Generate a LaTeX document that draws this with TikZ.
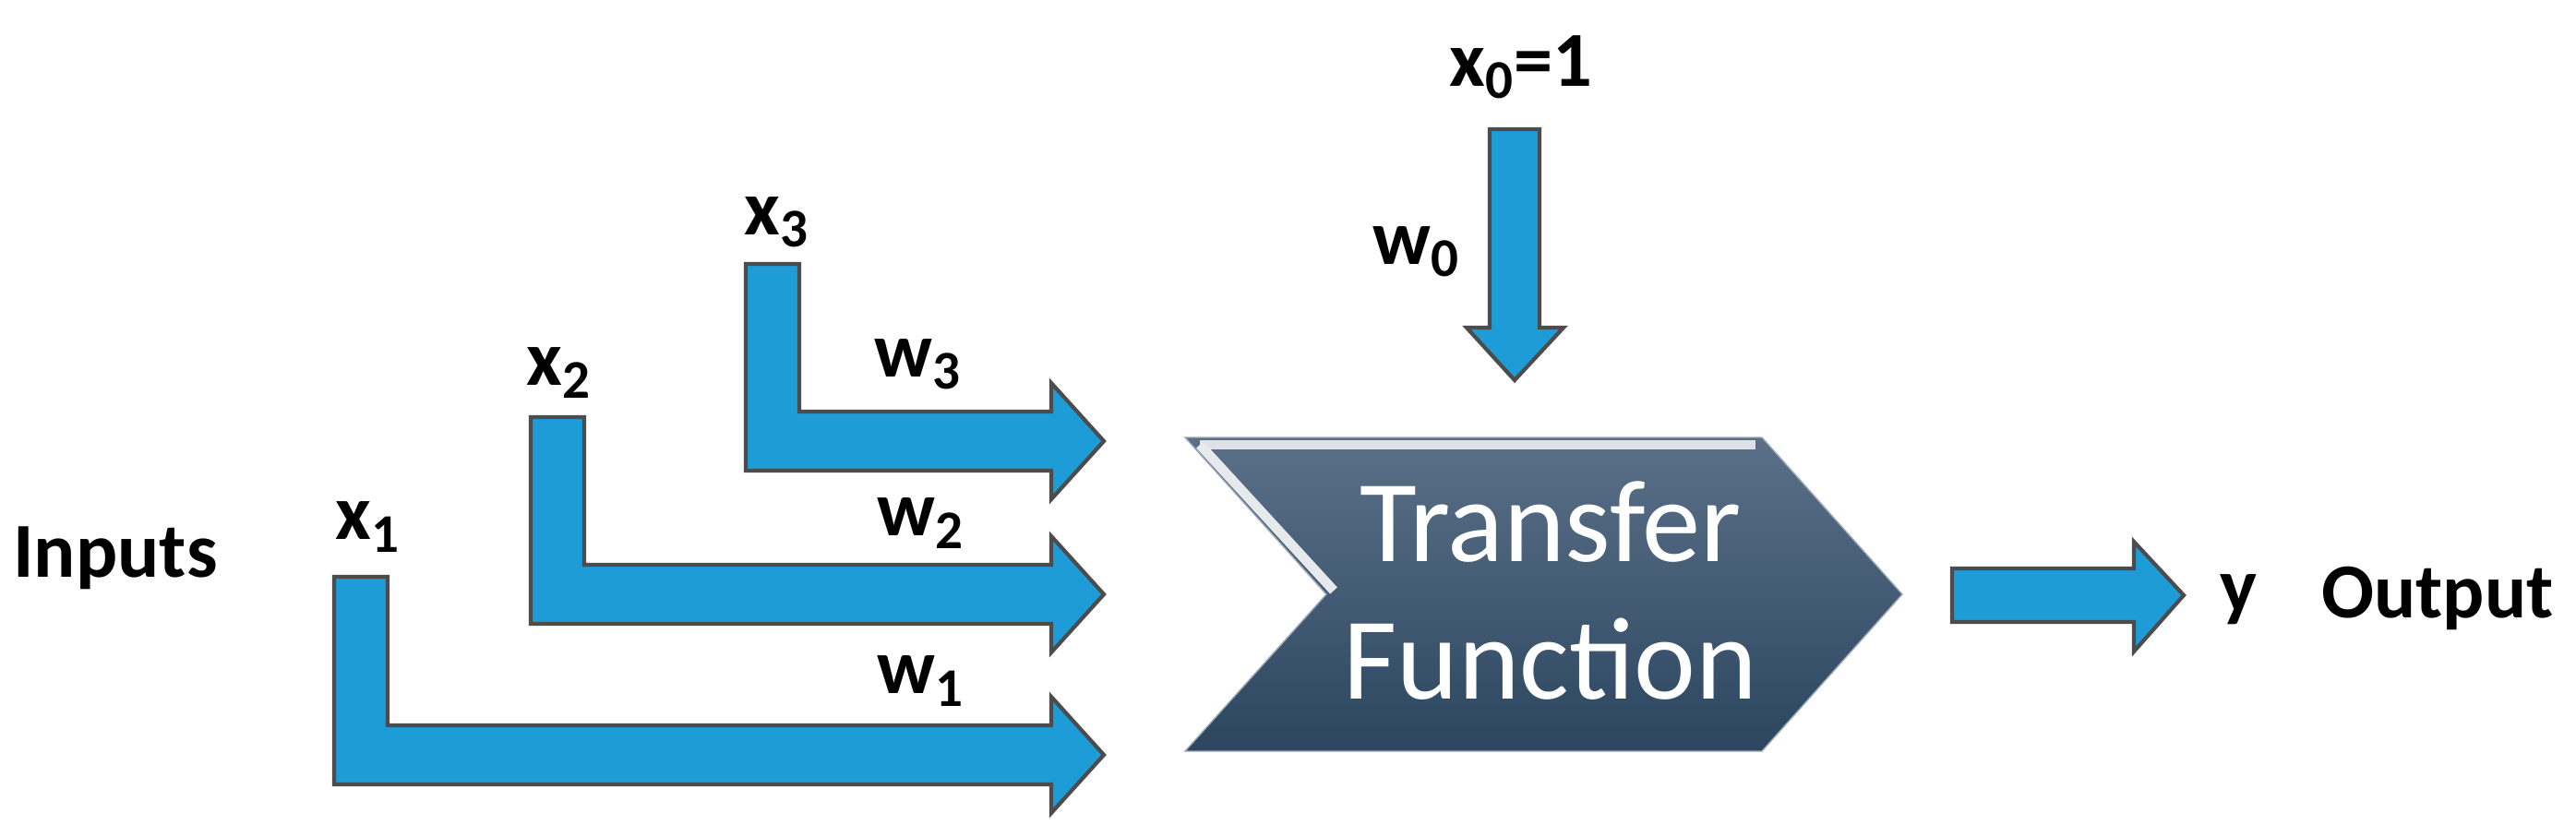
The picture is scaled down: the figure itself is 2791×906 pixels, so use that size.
\documentclass[tikz,border=0pt]{standalone}
\usepackage{fontspec}
\setmainfont{Carlito}
\usetikzlibrary{positioning}
\definecolor{arrowBlue}{HTML}{1E9CD7}
\definecolor{chevTop}{HTML}{5B7088}
\definecolor{chevBottom}{HTML}{2C4660}
\tikzset{
    blockArrow/.style={fill=arrowBlue, draw=black!70, line width=1.2pt},
    inLabel/.style={font=\fontsize{24}{28}\selectfont\bfseries, inner sep=0pt},
    chevText/.style={font=\fontsize{36}{40}\selectfont, text=white, inner sep=0pt}
}
\begin{document}
\begin{tikzpicture}[x=0.01cm, y=-0.01cm]
\useasboundingbox (0,0) rectangle (2791,906);
% input arrows (bar left, bar top, shaft centre)
\foreach \lft/\tp/\mid in {362/625/818, 575/452/644, 808/286/478}{
    \path[blockArrow] (\lft,\tp) -- (\lft+58,\tp) -- (\lft+58,\mid-32)
        -- (1139,\mid-32) -- (1139,\mid-63) -- (1196,\mid) -- (1139,\mid+63)
        -- (1139,\mid+32) -- (\lft,\mid+32) -- cycle;
}
% bias arrow
\path[blockArrow] (1614,140) -- (1668,140) -- (1668,355) -- (1694,355)
    -- (1641,412) -- (1589,355) -- (1614,355) -- cycle;
% output arrow
\path[blockArrow] (2115,616) -- (2312,616) -- (2312,587) -- (2366,645)
    -- (2312,706) -- (2312,674) -- (2115,674) -- cycle;
% transfer function chevron
\path[top color=chevTop, bottom color=chevBottom, draw=chevTop!60]
    (1284,474) -- (1909,474) -- (2061,644) -- (1909,814) -- (1284,814)
    -- (1437,644) -- cycle;
\draw[white!80!chevTop, line width=3pt] (1300,482) -- (1902,482);
\draw[white!85!chevTop, line width=3pt] (1300,482) -- (1445,640);
\node[chevText] (tf1) at (1680,566) {Transfer};
\node[chevText] (tf2) at (1680,714) {Function};
% labels
\node[inLabel] (inputs) at (125,605) {Inputs};
\node[inLabel] (x1) at (399,571) {x\textsubscript{1}};
\node[inLabel] (x2) at (606,404) {x\textsubscript{2}};
\node[inLabel] (x3) at (842,241) {x\textsubscript{3}};
\node[inLabel] (w1) at (998,738) {w\textsubscript{1}};
\node[inLabel] (w2) at (998,567) {w\textsubscript{2}};
\node[inLabel] (w3) at (995,395) {w\textsubscript{3}};
\node[inLabel] (x0) at (1648,73) {x\textsubscript{0}=1};
\node[inLabel] (w0) at (1535,273) {w\textsubscript{0}};
\node[inLabel] (y) at (2425,650) {y};
\node[inLabel] (output) at (2641,648) {Output};
\end{tikzpicture}
\end{document}
